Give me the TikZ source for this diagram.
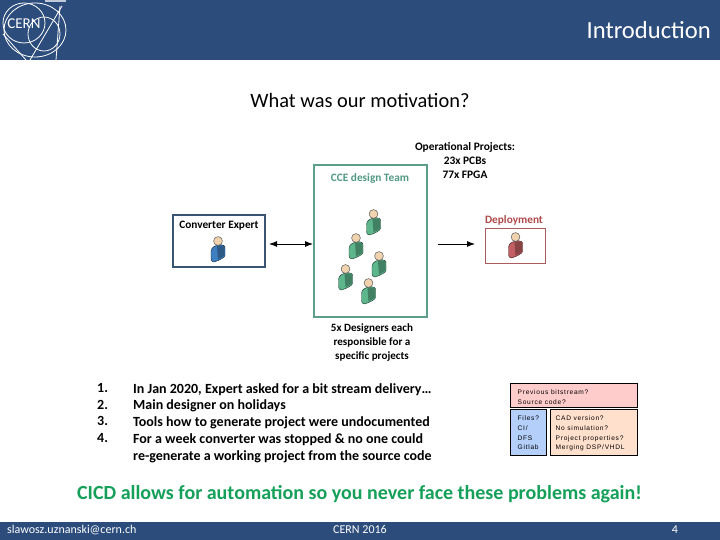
\documentclass[tikz,border=0pt]{standalone}
\usepackage{fontspec}
\setmainfont{Carlito}
\newfontfamily\arialf[LetterSpace=11]{Liberation Sans}
\usetikzlibrary{arrows.meta}
\definecolor{hdr}{HTML}{2C4D7C}
\definecolor{cicd}{HTML}{15A05A}
\definecolor{teamc}{HTML}{5C9E88}
\definecolor{teamt}{HTML}{4F9A80}
\definecolor{expc}{HTML}{3A5573}
\definecolor{depc}{HTML}{A85C5C}
\definecolor{dept}{HTML}{B04A4A}
\definecolor{skin}{HTML}{F0D2AE}
\definecolor{pg}{HTML}{5DB68C}
\definecolor{pb}{HTML}{3F7FC0}
\definecolor{pr}{HTML}{C25F63}
\definecolor{pinkb}{HTML}{FFCCCC}
\definecolor{blueb}{HTML}{B4CFFA}
\definecolor{peachb}{HTML}{FFE0CC}
\tikzset{
  lbl/.style={inner sep=0pt,align=center,font=\fontsize{11.3}{13}\selectfont\bfseries,text=black},
  framebox/.style={draw,line width=1.1pt,fill=white,inner sep=0pt},
  flow/.style={-{Latex[length=8pt,width=6pt]},line width=0.9pt,black},
  flowb/.style={{Latex[length=8pt,width=6pt]}-{Latex[length=8pt,width=6pt]},line width=0.9pt,black},
  notebox/.style={draw=black,line width=0.8pt,inner sep=0pt},
  notetxt/.style={inner sep=0pt,align=left,anchor=north west,font=\arialf\fontsize{6.6}{9.6}\selectfont,text=black},
  listtxt/.style={inner sep=0pt,anchor=north west,align=left,font=\fontsize{14}{16.75}\selectfont\bfseries,text=black},
  foot/.style={inner sep=0pt,text=white,font=\fontsize{12}{13}\selectfont},
  logoline/.style={draw=white,line width=0.8pt}
}
\newcommand{\figperson}[3]{%
  \begin{scope}[shift={(#1,#2)}]
    \fill[#3,draw=black!70!#3,line width=0.4pt]
      (-7,3) .. controls (-7,-1) and (-3,-3) .. (1,-3.5)
      .. controls (5,-4) and (7.5,-3) .. (7,0)
      -- (7,7) .. controls (7,9) and (1,12) .. (-4,13.5)
      .. controls (-6,13.5) and (-7,12) .. (-7,10) -- cycle;
    \fill[black!30!#3] (-1,-2.5) .. controls (3,-3.5) and (6.5,-3.5) .. (6.5,0) -- (6.5,7) .. controls (5,8.5) and (2,10) .. (0,10.8) -- cycle;
    \fill[skin,draw=black!65,line width=0.5pt] (0,-7.5) circle (4.4);
  \end{scope}}
\begin{document}
\begin{tikzpicture}[x=1pt,y=-1pt]
\useasboundingbox (0,0) rectangle (720,540);
\fill[white] (0,0) rectangle (720,540);
\fill[hdr] (0,0) rectangle (720,60);
\fill[hdr] (0,522) rectangle (720,540);
% CERN logo
\begin{scope}
  \clip (0,0) rectangle (70,60);
  \draw[logoline] (24,23) circle [x radius=21,y radius=20];
  \draw[logoline] (35,30) circle [x radius=31,y radius=27];
  \draw[logoline] (44,34) circle [x radius=16,y radius=17];
  \draw[logoline] (3,34) -- (26,60);
  \draw[logoline] (62,6) -- (30,60);
  \draw[logoline] (60,6) -- (56,60);
  \fill[white!70!hdr] (45,0) rectangle (66,2);
\end{scope}
\node[inner sep=0pt,text=white,font=\fontsize{15}{15}\selectfont] (logotext) at (24,24) {CERN};
\node[inner sep=0pt,anchor=east,text=white,font=\fontsize{24.6}{26}\selectfont] (title) at (711,30) {Introduction};
\node[inner sep=0pt,text=black,font=\fontsize{20.4}{22}\selectfont] (motiv) at (360,100) {What was our motivation?};
% diagram
\node[framebox,draw=expc,minimum width=92pt,minimum height=52pt] (expert) at (219,241) {};
\node[framebox,draw=teamc,minimum width=113pt,minimum height=152pt] (team) at (370.5,241) {};
\node[framebox,draw=depc,line width=0.9pt,minimum width=60pt,minimum height=35pt] (deploy) at (515,246) {};
\node[lbl] (explbl) at (219,226) {Converter Expert};
\node[lbl,text=teamt] (teamlbl) at (370,178) {CCE design Team};
\node[lbl,text=dept] (deplbl) at (514,220.5) {Deployment};
\node[lbl,font=\fontsize{11.4}{14}\selectfont\bfseries] (oplbl) at (465,160.5) {Operational Projects:\\23x PCBs\\77x FPGA};
\node[lbl,font=\fontsize{11.1}{13.7}\selectfont\bfseries] (deslbl) at (372,342.5) {5x Designers each\\responsible for a\\specific projects};
\coordinate (a1) at (269,244);
\coordinate (a2) at (313,244);
\coordinate (b1) at (438,244);
\coordinate (b2) at (475,244);
\draw[flowb] (a1) -- (a2);
\draw[flow] (b1) -- (b2);
\figperson{218}{248.5}{pb}
\figperson{373.5}{221.5}{pg}
\figperson{356}{245.5}{pg}
\figperson{379}{263.5}{pg}
\figperson{345.5}{276.5}{pg}
\figperson{368.5}{290.5}{pg}
\figperson{515.5}{244.5}{pr}
% list
\node[listtxt] (nums) at (97,383) {1.\\2.\\3.\\4.};
\node[listtxt] (items) at (133,383) {In Jan 2020, Expert asked for a bit stream delivery…\\Main designer on holidays\\Tools how to generate project were undocumented\\For a week converter was stopped \& no one could\\re-generate a working project from the source code};
% note boxes
\node[notebox,fill=pinkb,minimum width=127pt,minimum height=24pt] (prev) at (573.5,395.5) {};
\node[notebox,fill=blueb,minimum width=36pt,minimum height=46pt] (files) at (528,432) {};
\node[notebox,fill=peachb,minimum width=87pt,minimum height=46pt] (cad) at (593.5,432) {};
\node[notetxt] at (517.5,389.5) (prevt) {Previous bitstream?\\[0.8pt]Source code?};
\node[notetxt] at (517.5,416) (filest) {Files?\\CI/\\DFS\\Gitlab};
\node[notetxt] at (555.5,416) (cadt) {CAD version?\\No simulation?\\Project properties?\\Merging DSP/VHDL};
% conclusion
\node[inner sep=0pt,text=cicd,font=\fontsize{20}{22}\selectfont\bfseries] (cicdt) at (359.5,494.5) {CICD allows for automation so you never face these problems again!};
% footer
\node[foot,anchor=west] (mail) at (7,530) {slawosz.uznanski@cern.ch};
\node[foot] (yr) at (360,529) {CERN 2016};
\node[foot] (pg) at (675,530) {4};
\end{tikzpicture}
\end{document}
